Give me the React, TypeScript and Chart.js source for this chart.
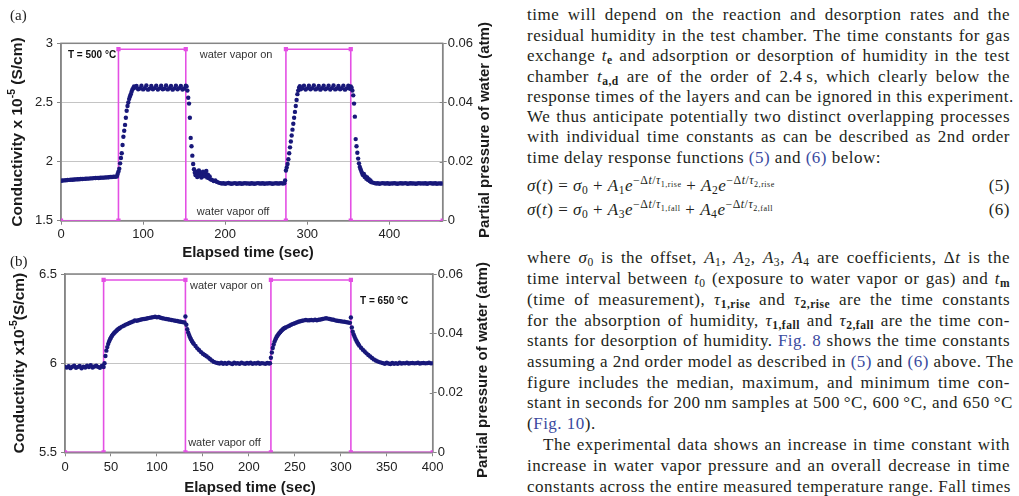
import React, { useEffect, useRef } from "react";
import { Chart, registerables } from "chart.js";
Chart.register(...registerables);

type Pair = [number, number];

// ---------------- (a) T = 500 °C : [elapsed time (s), conductivity x1e-5 S/cm] ----------------
const baselineA1: Pair[] = [
  [0, 1.838], [2, 1.84], [4, 1.841], [6, 1.842], [8, 1.844], [10, 1.845], [12, 1.846], [14, 1.846], [16, 1.848],
  [18, 1.849], [20, 1.85], [22, 1.851], [24, 1.852], [26, 1.852], [28, 1.854], [30, 1.855], [32, 1.856], [34, 1.856],
  [36, 1.858], [38, 1.858], [40, 1.86], [42, 1.861], [44, 1.862], [46, 1.861], [48, 1.863], [50, 1.864], [52, 1.864],
  [54, 1.866], [56, 1.866], [58, 1.868], [60, 1.869], [62, 1.869], [64, 1.871], [66, 1.872], [68, 1.874],
];
const riseA1: Pair[] = [
  [69, 1.895], [70, 1.915], [71, 1.94], [72, 1.985], [73, 2.03], [74, 2.07], [75, 2.14], [76, 2.21], [77, 2.26],
  [78, 2.31], [79, 2.37], [80, 2.43], [81, 2.47], [82, 2.5], [83, 2.53], [84, 2.55], [85, 2.57], [86, 2.59],
  [87, 2.61], [88, 2.62], [89, 2.635], [90, 2.625],
];
const plateauA1: Pair[] = [
  [92, 2.64], [94, 2.612], [96, 2.618], [98, 2.641], [100, 2.61], [102, 2.62], [104, 2.643], [106, 2.608],
  [108, 2.617], [110, 2.64], [112, 2.611], [114, 2.621], [116, 2.642], [118, 2.609], [120, 2.619], [122, 2.641],
  [124, 2.612], [126, 2.618], [128, 2.643], [130, 2.61], [132, 2.62], [134, 2.64], [136, 2.608], [138, 2.619],
  [140, 2.642], [142, 2.611], [144, 2.621], [146, 2.64], [148, 2.609], [150, 2.618], [152, 2.641],
];
const fallA1: Pair[] = [
  [153, 2.635], [154, 2.6], [155, 2.54], [156, 2.49], [157, 2.37], [158, 2.2], [159, 2.13], [160, 2.05],
  [161, 1.98], [162, 1.935], [163, 1.905], [164, 1.885], [165, 1.915], [166, 1.87], [167, 1.895], [168, 1.925],
  [169, 1.88], [170, 1.905], [171, 1.865], [172, 1.895], [173, 1.915], [174, 1.875], [175, 1.9], [176, 1.885],
  [177, 1.92], [178, 1.865], [179, 1.89], [180, 1.86], [181, 1.875], [182, 1.85], [184, 1.845], [186, 1.835],
  [188, 1.84], [190, 1.828], [192, 1.822],
];
const baselineA2: Pair[] = [
  [194, 1.818], [196, 1.814], [198, 1.817], [200, 1.813], [202, 1.816], [204, 1.819], [206, 1.814], [208, 1.812],
  [210, 1.816], [212, 1.818], [214, 1.813], [216, 1.815], [218, 1.817], [220, 1.812], [222, 1.815], [224, 1.818],
  [226, 1.814], [228, 1.816], [230, 1.813], [232, 1.817], [234, 1.815], [236, 1.812], [238, 1.816], [240, 1.818],
  [242, 1.814], [244, 1.815], [246, 1.817], [248, 1.813], [250, 1.816], [252, 1.814], [254, 1.818], [256, 1.815],
  [258, 1.813], [260, 1.816], [262, 1.817], [264, 1.814], [266, 1.815], [268, 1.818], [270, 1.815], [272, 1.816],
];
const riseA2: Pair[] = [
  [273, 1.84], [274, 1.925], [275, 1.95], [276, 1.98], [277, 2.02], [278, 2.07], [279, 2.12], [280, 2.17],
  [281, 2.22], [282, 2.27], [283, 2.32], [284, 2.37], [285, 2.42], [286, 2.47], [287, 2.52], [288, 2.57],
  [289, 2.6], [290, 2.625], [291, 2.638],
];
const plateauA2: Pair[] = [
  [292, 2.612], [294, 2.62], [296, 2.642], [298, 2.609], [300, 2.619], [302, 2.641], [304, 2.611], [306, 2.621],
  [308, 2.643], [310, 2.61], [312, 2.618], [314, 2.64], [316, 2.608], [318, 2.62], [320, 2.642], [322, 2.611],
  [324, 2.619], [326, 2.641], [328, 2.609], [330, 2.621], [332, 2.643], [334, 2.61], [336, 2.618], [338, 2.64],
  [340, 2.612], [342, 2.62], [344, 2.642], [346, 2.608], [348, 2.619], [350, 2.641], [352, 2.615],
];
const fallA2: Pair[] = [
  [353, 2.635], [354, 2.625], [355, 2.6], [356, 2.56], [357, 2.49], [358, 2.38], [359, 2.19], [360, 2.13],
  [361, 2.075], [362, 2.025], [363, 1.985], [364, 1.955], [365, 1.935], [366, 1.915], [367, 1.9], [368, 1.885],
  [369, 1.895], [370, 1.87], [371, 1.875], [372, 1.855], [373, 1.865], [374, 1.845], [375, 1.85], [376, 1.835],
  [377, 1.84], [378, 1.826], [380, 1.822], [382, 1.818],
];
const baselineA3: Pair[] = [
  [384, 1.815], [386, 1.817], [388, 1.813], [390, 1.816], [392, 1.818], [394, 1.814], [396, 1.815], [398, 1.817],
  [400, 1.813], [402, 1.816], [404, 1.814], [406, 1.818], [408, 1.815], [410, 1.812], [412, 1.816], [414, 1.817],
  [416, 1.814], [418, 1.816], [420, 1.818], [422, 1.813], [424, 1.815], [426, 1.817], [428, 1.814], [430, 1.816],
  [432, 1.812], [434, 1.815], [436, 1.818], [438, 1.814], [440, 1.816], [442, 1.815], [444, 1.817], [446, 1.813],
  [448, 1.816], [450, 1.818], [452, 1.814], [454, 1.815], [456, 1.817], [458, 1.813], [460, 1.816], [462, 1.815],
  [464, 1.814],
];
const pinkTimeA = [0, 70, 70, 152, 152, 274, 274, 353, 353, 465];
const pinkPressA = [0, 0, 0.058, 0.058, 0, 0, 0.058, 0.058, 0, 0];
const xTicksA = [0, 100, 200, 300, 400];
const yTicksA = [1.5, 2, 2.5, 3];

// ---------------- (b) T = 650 °C ----------------
const baselineB1: Pair[] = [
  [0, 5.978], [2, 5.975], [4, 5.983], [6, 5.972], [8, 5.98], [10, 5.986], [12, 5.974], [14, 5.979], [16, 5.984],
  [18, 5.971], [20, 5.98], [22, 5.976], [24, 5.985], [26, 5.978], [28, 5.988], [30, 5.975], [32, 5.981], [34, 5.986],
  [36, 5.979], [38, 5.974], [40, 5.984], [42, 5.978],
];
const riseB1: Pair[] = [
  [43, 6.0], [44, 6.04], [45, 6.07], [46, 6.09], [47, 6.108], [48, 6.122], [49, 6.134], [50, 6.144], [51, 6.152],
  [52, 6.16], [53, 6.166], [54, 6.172], [55, 6.177], [56, 6.182], [57, 6.187], [58, 6.191], [59, 6.195], [60, 6.199],
];
const plateauB1: Pair[] = [
  [62, 6.205], [64, 6.21], [66, 6.216], [68, 6.22], [70, 6.225], [72, 6.229], [74, 6.234], [76, 6.24], [78, 6.238],
  [80, 6.241], [82, 6.243], [84, 6.246], [86, 6.248], [88, 6.249], [90, 6.252], [92, 6.254], [94, 6.256], [96, 6.258],
  [98, 6.26], [100, 6.257], [102, 6.259], [104, 6.255], [106, 6.252], [108, 6.25], [110, 6.248], [112, 6.246],
  [114, 6.244], [116, 6.242], [118, 6.24], [120, 6.238], [122, 6.236], [124, 6.234], [126, 6.232], [128, 6.23],
  [130, 6.228], [131, 6.262], [132, 6.215],
];
const fallB1: Pair[] = [
  [133, 6.19], [134, 6.172], [135, 6.158], [136, 6.145], [137, 6.134], [138, 6.124], [139, 6.116], [140, 6.109],
  [142, 6.096], [144, 6.083], [146, 6.072], [148, 6.062], [150, 6.053], [152, 6.046], [154, 6.039], [156, 6.031],
  [158, 6.022], [160, 6.014], [162, 6.007], [164, 6.003], [166, 6.001],
];
const baselineB2: Pair[] = [
  [168, 5.998], [170, 6.002], [172, 5.997], [174, 6.001], [176, 5.996], [178, 6.003], [180, 5.999], [182, 5.995],
  [184, 6.002], [186, 5.998], [188, 6.0], [190, 5.996], [192, 6.003], [194, 5.999], [196, 5.997], [198, 6.001],
  [200, 5.998], [202, 6.002], [204, 5.996], [206, 6.0], [208, 5.998], [210, 6.003], [212, 5.997], [214, 6.0],
  [216, 5.999], [218, 5.996], [220, 6.001], [222, 5.998],
];
const riseB2: Pair[] = [
  [223, 6.0], [224, 6.03], [225, 6.06], [226, 6.085], [227, 6.105], [228, 6.121], [229, 6.134], [230, 6.145],
  [231, 6.154], [232, 6.161], [233, 6.168], [234, 6.174], [235, 6.18], [236, 6.185], [237, 6.19], [238, 6.194],
  [239, 6.197], [240, 6.2],
];
const plateauB2: Pair[] = [
  [242, 6.205], [244, 6.21], [246, 6.215], [248, 6.22], [250, 6.224], [252, 6.228], [254, 6.232], [256, 6.235],
  [258, 6.238], [260, 6.24], [262, 6.242], [264, 6.24], [266, 6.241], [268, 6.242], [270, 6.24], [272, 6.243],
  [274, 6.241], [276, 6.243], [278, 6.245], [280, 6.248], [282, 6.25], [284, 6.252], [286, 6.25], [288, 6.248],
  [290, 6.245], [292, 6.243], [294, 6.24], [296, 6.238], [298, 6.236], [300, 6.235], [302, 6.233], [304, 6.232],
  [306, 6.23], [308, 6.228], [310, 6.226], [311, 6.256], [312, 6.2],
];
const fallB2: Pair[] = [
  [313, 6.176], [314, 6.161], [315, 6.148], [316, 6.136], [317, 6.126], [318, 6.116], [319, 6.107], [320, 6.099],
  [322, 6.086], [324, 6.075], [326, 6.065], [328, 6.055], [330, 6.046], [332, 6.037], [334, 6.029], [336, 6.021],
  [338, 6.015], [340, 6.01], [342, 6.006], [344, 6.003],
];
const baselineB3: Pair[] = [
  [346, 6.0], [348, 5.997], [350, 6.002], [352, 5.998], [354, 5.995], [356, 6.001], [358, 5.997], [360, 6.0],
  [362, 5.996], [364, 6.002], [366, 5.998], [368, 6.0], [370, 5.999], [372, 6.002], [374, 5.998], [376, 6.0],
  [378, 6.001], [380, 5.999], [382, 6.0], [384, 6.002], [386, 5.998], [388, 6.0], [390, 6.001], [392, 5.999],
  [394, 6.0], [396, 6.002], [398, 5.999], [400, 6.0],
];
const pinkTimeB = [0, 42, 42, 131, 131, 224, 224, 311, 311, 400];
const pinkPressB = [0, 0, 0.058, 0.058, 0, 0, 0.058, 0.058, 0, 0];
const xTicksB = [0, 50, 100, 150, 200, 250, 300, 350, 400];
const yTicksB = [5.5, 6, 6.5];

const pressureTicks = [0, 0.02, 0.04, 0.06];

// ---------------- styling ----------------
const NAVY = "#18187a";
const PINK = "#e44fe4";
const AXIS = "#858585";
const GRID = "#c4c4c4";
const SANS = '"Liberation Sans", Arial, sans-serif';
const SERIF = '"Liberation Serif", "Times New Roman", serif';

type Part = { t: string; size: number; bold?: boolean; dy?: number };

function drawRich(ctx: CanvasRenderingContext2D, parts: Part[], x: number, y: number, rot: number, align: "left" | "center", color: string, family = SANS) {
  ctx.save();
  ctx.translate(x, y);
  ctx.rotate(rot);
  ctx.fillStyle = color;
  ctx.textBaseline = "middle";
  ctx.textAlign = "left";
  const widths = parts.map((p) => {
    ctx.font = `${p.bold ? "bold " : ""}${p.size}px ${family}`;
    return ctx.measureText(p.t).width;
  });
  const total = widths.reduce((a, b) => a + b, 0);
  let cx = align === "center" ? -total / 2 : 0;
  parts.forEach((p, i) => {
    ctx.font = `${p.bold ? "bold " : ""}${p.size}px ${family}`;
    ctx.fillText(p.t, cx, p.dy || 0);
    cx += widths[i];
  });
  ctx.restore();
}

type Note = { parts: Part[]; x: number; y: number; color?: string };

type Spec = {
  w: number;
  h: number;
  area: { left: number; top: number; right: number; bottom: number };
  xMax: number;
  xTicks: number[];
  yMin: number;
  yMax: number;
  yTicks: number[];
  cond: Pair[];
  pinkT: number[];
  pinkP: number[];
  xPad: number;
  label: string;
  labelY: number;
  yTitle: Part[];
  yTitleX: number;
  y2TitleX: number;
  y2TitleY: number;
  xTitleX: number;
  xTitleY: number;
  notes: Note[];
};

function buildChart(canvas: HTMLCanvasElement, s: Spec) {
  const dots = s.cond.map(([x, y]) => ({ x, y }));
  const pink = s.pinkT.map((x, i) => ({ x, y: s.pinkP[i] }));
  const tickFont = { family: SANS, size: 13 };
  const overlay = {
    id: "overlay",
    beforeDatasetsDraw(chart: any) {
      const { ctx, chartArea: a, scales } = chart;
      ctx.save();
      ctx.strokeStyle = AXIS;
      ctx.lineWidth = 1.5;
      ctx.strokeRect(a.left, a.top, a.right - a.left, a.bottom - a.top);
      // small inward tick marks on the right axis so they cross it
      ctx.lineWidth = 1;
      pressureTicks.forEach((v) => {
        const py = Math.round(scales.y2.getPixelForValue(v)) + 0.5;
        ctx.beginPath();
        ctx.moveTo(a.right - 3, py);
        ctx.lineTo(a.right, py);
        ctx.stroke();
      });
      ctx.restore();
    },
    afterDraw(chart: any) {
      const { ctx, chartArea: a, scales } = chart;
      const midY = (a.top + a.bottom) / 2;
      drawRich(ctx, [{ t: s.label, size: 15 }], 10, s.labelY, 0, "left", "#222", SERIF);
      drawRich(ctx, s.yTitle, s.yTitleX, midY, -Math.PI / 2, "center", "#1a1a1a");
      drawRich(ctx, [{ t: "Partial pressure of water (atm)", size: 15, bold: true }], s.y2TitleX, s.y2TitleY, -Math.PI / 2, "center", "#1a1a1a");
      drawRich(ctx, [{ t: "Elapsed time (sec)", size: 15, bold: true }], s.xTitleX, s.xTitleY, 0, "center", "#1a1a1a");
      s.notes.forEach((n) => {
        drawRich(ctx, n.parts, scales.x.getPixelForValue(n.x), scales.y.getPixelForValue(n.y), 0, "left", n.color || "#333");
      });
    },
  };
  return new Chart(canvas, {
    type: "scatter",
    data: {
      datasets: [
        {
          data: dots,
          yAxisID: "y",
          showLine: false,
          pointRadius: 2.2,
          pointBorderWidth: 0,
          pointBackgroundColor: NAVY,
          backgroundColor: NAVY,
          borderColor: NAVY,
        },
        {
          data: pink,
          yAxisID: "y2",
          showLine: true,
          borderColor: PINK,
          borderWidth: 1.6,
          pointStyle: "rect",
          pointRadius: 3,
          pointBorderWidth: 0,
          pointBackgroundColor: PINK,
          backgroundColor: PINK,
        },
      ],
    },
    options: {
      animation: false,
      responsive: false,
      devicePixelRatio: 1,
      events: [],
      layout: { padding: { top: s.area.top, left: 0, right: 0, bottom: 0 } },
      plugins: { legend: { display: false }, tooltip: { enabled: false } },
      scales: {
        x: {
          type: "linear",
          min: 0,
          max: s.xMax,
          afterBuildTicks: (sc: any) => {
            sc.ticks = s.xTicks.map((v) => ({ value: v }));
          },
          afterFit: (sc: any) => {
            sc.height = s.h - s.area.bottom;
          },
          ticks: { callback: (v: any) => String(v), font: tickFont, color: "#222", padding: s.xPad, maxRotation: 0, autoSkip: false },
          grid: { drawOnChartArea: false, tickLength: 4, tickColor: AXIS },
          border: { color: AXIS, width: 1.5 },
        },
        y: {
          type: "linear",
          position: "left",
          min: s.yMin,
          max: s.yMax,
          afterBuildTicks: (sc: any) => {
            sc.ticks = s.yTicks.map((v) => ({ value: v }));
          },
          afterFit: (sc: any) => {
            sc.width = s.area.left;
          },
          ticks: { callback: (v: any) => String(v), font: tickFont, color: "#222", padding: 4 },
          grid: { color: GRID, lineWidth: 1, tickLength: 4, tickColor: AXIS },
          border: { color: AXIS, width: 1.5 },
        },
        y2: {
          type: "linear",
          position: "right",
          min: 0,
          max: 0.06,
          afterBuildTicks: (sc: any) => {
            sc.ticks = pressureTicks.map((v) => ({ value: v }));
          },
          afterFit: (sc: any) => {
            sc.width = s.w - s.area.right;
          },
          ticks: { callback: (v: any) => (v === 0 ? "0" : Number(v).toFixed(2)), font: tickFont, color: "#222", padding: 1 },
          grid: { drawOnChartArea: false, tickLength: 4, tickColor: AXIS },
          border: { color: AXIS, width: 1.5 },
        },
      },
    },
    plugins: [overlay],
  } as any);
}

const specA: Spec = {
  w: 500,
  h: 262,
  area: { left: 61, top: 43.3, right: 442.7, bottom: 220.7 },
  xMax: 465,
  xTicks: xTicksA,
  yMin: 1.5,
  yMax: 3,
  yTicks: yTicksA,
  cond: [...baselineA1, ...riseA1, ...plateauA1, ...fallA1, ...baselineA2, ...riseA2, ...plateauA2, ...fallA2, ...baselineA3],
  pinkT: pinkTimeA,
  pinkP: pinkPressA,
  xPad: 2,
  label: "(a)",
  labelY: 16,
  yTitle: [
    { t: "Conductivity x 10", size: 15.5, bold: true },
    { t: "-5", size: 10.5, bold: true, dy: -6 },
    { t: " (S/cm)", size: 15.5, bold: true },
  ],
  yTitleX: 18,
  y2TitleX: 485,
  y2TitleY: 130,
  xTitleX: 248,
  xTitleY: 253,
  notes: [
    { parts: [{ t: "T = 500 °C", size: 10, bold: true }], x: 8.5, y: 2.9, color: "#111" },
    { parts: [{ t: "water vapor on", size: 11 }], x: 169, y: 2.9 },
    { parts: [{ t: "water vapor off", size: 11 }], x: 165.5, y: 1.576 },
  ],
};

const specB: Spec = {
  w: 500,
  h: 246,
  area: { left: 65, top: 24, right: 432.7, bottom: 202.3 },
  xMax: 400,
  xTicks: xTicksB,
  yMin: 5.5,
  yMax: 6.5,
  yTicks: yTicksB,
  cond: [...baselineB1, ...riseB1, ...plateauB1, ...fallB1, ...baselineB2, ...riseB2, ...plateauB2, ...fallB2, ...baselineB3],
  pinkT: pinkTimeB,
  pinkP: pinkPressB,
  xPad: 3,
  label: "(b)",
  labelY: 12,
  yTitle: [
    { t: "Conductivity x10", size: 15.5, bold: true },
    { t: "-5", size: 10.5, bold: true, dy: -6 },
    { t: "(S/cm)", size: 15.5, bold: true },
  ],
  yTitleX: 20,
  y2TitleX: 483,
  y2TitleY: 120,
  xTitleX: 250,
  xTitleY: 238,
  notes: [
    { parts: [{ t: "water vapor on", size: 11 }], x: 136, y: 6.433 },
    { parts: [{ t: "water vapor off", size: 11 }], x: 134, y: 5.554 },
    { parts: [{ t: "T = 650 °C", size: 10, bold: true }], x: 321, y: 6.345, color: "#111" },
  ],
};

function ChartCanvas({ spec, top }: { spec: Spec; top: number }) {
  const ref = useRef<HTMLCanvasElement | null>(null);
  useEffect(() => {
    if (!ref.current) return;
    const c = buildChart(ref.current, spec);
    return () => c.destroy();
  }, [spec]);
  return (
    <canvas
      ref={ref}
      width={spec.w}
      height={spec.h}
      style={{ position: "absolute", left: 0, top, width: spec.w, height: spec.h }}
    />
  );
}

// ---------------- right-hand text column ----------------
const LINK = "#3a4aa0";
const Sb = ({ c }: { c: React.ReactNode }) => (
  <span style={{ fontSize: "0.68em", position: "relative", top: "0.3em" }}>{c}</span>
);
const Sp = ({ c }: { c: React.ReactNode }) => (
  <span style={{ fontSize: "0.7em", position: "relative", top: "-0.55em" }}>{c}</span>
);
const L = ({ c }: { c: React.ReactNode }) => <span style={{ color: LINK }}>{c}</span>;

type Line = { y: number; c: React.ReactNode; j?: boolean; indent?: number };

const textLines: Line[] = [
  { y: 15, j: true, c: <>time will depend on the reaction and desorption rates and the</> },
  { y: 35.5, j: true, c: <>residual humidity in the test chamber. The time constants for gas</> },
  { y: 56, j: true, c: <>exchange <i>t</i><Sb c={<b>e</b>} /> and adsorption or desorption of humidity in the test</> },
  { y: 76.5, j: true, c: <>chamber <i>t</i><Sb c={<b>a,d</b>} /> are of the order of 2.4{"\u2009"}s, which clearly below the</> },
  { y: 97, j: true, c: <>response times of the layers and can be ignored in this experiment.</> },
  { y: 117, j: true, c: <>We thus anticipate potentially two distinct overlapping processes</> },
  { y: 137, j: true, c: <>with individual time constants as can be described as 2nd order</> },
  { y: 157.5, c: <>time delay response functions <L c="(5)" /> and <L c="(6)" /> below:</> },
  { y: 258, j: true, c: <>where <i>σ</i><Sb c="0" /> is the offset, <i>A</i><Sb c="1" />, <i>A</i><Sb c="2" />, <i>A</i><Sb c="3" />, <i>A</i><Sb c="4" /> are coefficients, Δ<i>t</i> is the</> },
  { y: 279, j: true, c: <>time interval between <i>t</i><Sb c="0" /> (exposure to water vapor or gas) and <i>t</i><Sb c={<b>m</b>} /></> },
  { y: 300, j: true, c: <>(time of measurement), <i>τ</i><Sb c={<b>1,rise</b>} /> and <i>τ</i><Sb c={<b>2,rise</b>} /> are the time constants</> },
  { y: 320.5, j: true, c: <>for the absorption of humidity, <i>τ</i><Sb c={<b>1,fall</b>} /> and <i>τ</i><Sb c={<b>2,fall</b>} /> are the time con-</> },
  { y: 341, j: true, c: <>stants for desorption of humidity. <L c="Fig. 8" /> shows the time constants</> },
  { y: 362, j: true, c: <>assuming a 2nd order model as described in <L c="(5)" /> and <L c="(6)" /> above. The</> },
  { y: 382.5, j: true, c: <>figure includes the median, maximum, and minimum time con-</> },
  { y: 403, j: true, c: <>stant in seconds for 200{"\u2009"}nm samples at 500{"\u2009"}°C, 600{"\u2009"}°C, and 650{"\u2009"}°C</> },
  { y: 424, c: <>(<L c="Fig. 10" />).</> },
  { y: 445, j: true, indent: 16, c: <>The experimental data shows an increase in time constant with</> },
  { y: 466, j: true, c: <>increase in water vapor pressure and an overall decrease in time</> },
  { y: 486.5, j: true, c: <>constants across the entire measured temperature range. Fall times</> },
];

const eqRows = [
  {
    y: 186,
    num: "(5)",
    c: (
      <>
        <i>σ</i>(<i>t</i>) = <i>σ</i><Sb c="0" /> + <i>A</i><Sb c="1" /><i>e</i>
        <Sp c={<>−Δ<i>t</i>/<i>τ</i><Sb c="1,rise" /></>} /> + <i>A</i><Sb c="2" /><i>e</i>
        <Sp c={<>−Δ<i>t</i>/<i>τ</i><Sb c="2,rise" /></>} />
      </>
    ),
  },
  {
    y: 210,
    num: "(6)",
    c: (
      <>
        <i>σ</i>(<i>t</i>) = <i>σ</i><Sb c="0" /> + <i>A</i><Sb c="3" /><i>e</i>
        <Sp c={<>−Δ<i>t</i>/<i>τ</i><Sb c="1,fall" /></>} /> + <i>A</i><Sb c="4" /><i>e</i>
        <Sp c={<>−Δ<i>t</i>/<i>τ</i><Sb c="2,fall" /></>} />
      </>
    ),
  },
];

const TEXT_LEFT = 527;
const TEXT_RIGHT = 1010;
const baseText: React.CSSProperties = {
  position: "absolute",
  height: 20,
  lineHeight: "20px",
  fontFamily: SERIF,
  fontSize: 17,
  letterSpacing: "0.5px",
  color: "#231f20",
  whiteSpace: "nowrap",
};

export default function App() {
  return (
    <div style={{ position: "absolute", left: 0, top: 0, width: 1019, height: 496, background: "#fff", overflow: "hidden" }}>
      <ChartCanvas spec={specA} top={0} />
      <ChartCanvas spec={specB} top={250} />
      {textLines.map((ln, i) => {
        const left = TEXT_LEFT + (ln.indent || 0);
        return (
          <div
            key={i}
            style={{
              ...baseText,
              top: ln.y - 10,
              left,
              width: TEXT_RIGHT - left,
              textAlign: ln.j ? "justify" : "left",
              textAlignLast: ln.j ? "justify" : "left",
            }}
          >
            {ln.c}
          </div>
        );
      })}
      {eqRows.map((r, i) => (
        <div
          key={"eq" + i}
          style={{
            ...baseText,
            top: r.y - 10,
            left: TEXT_LEFT,
            width: TEXT_RIGHT - TEXT_LEFT,
            display: "flex",
            justifyContent: "space-between",
          }}
        >
          <span>{r.c}</span>
          <span>{r.num}</span>
        </div>
      ))}
    </div>
  );
}
